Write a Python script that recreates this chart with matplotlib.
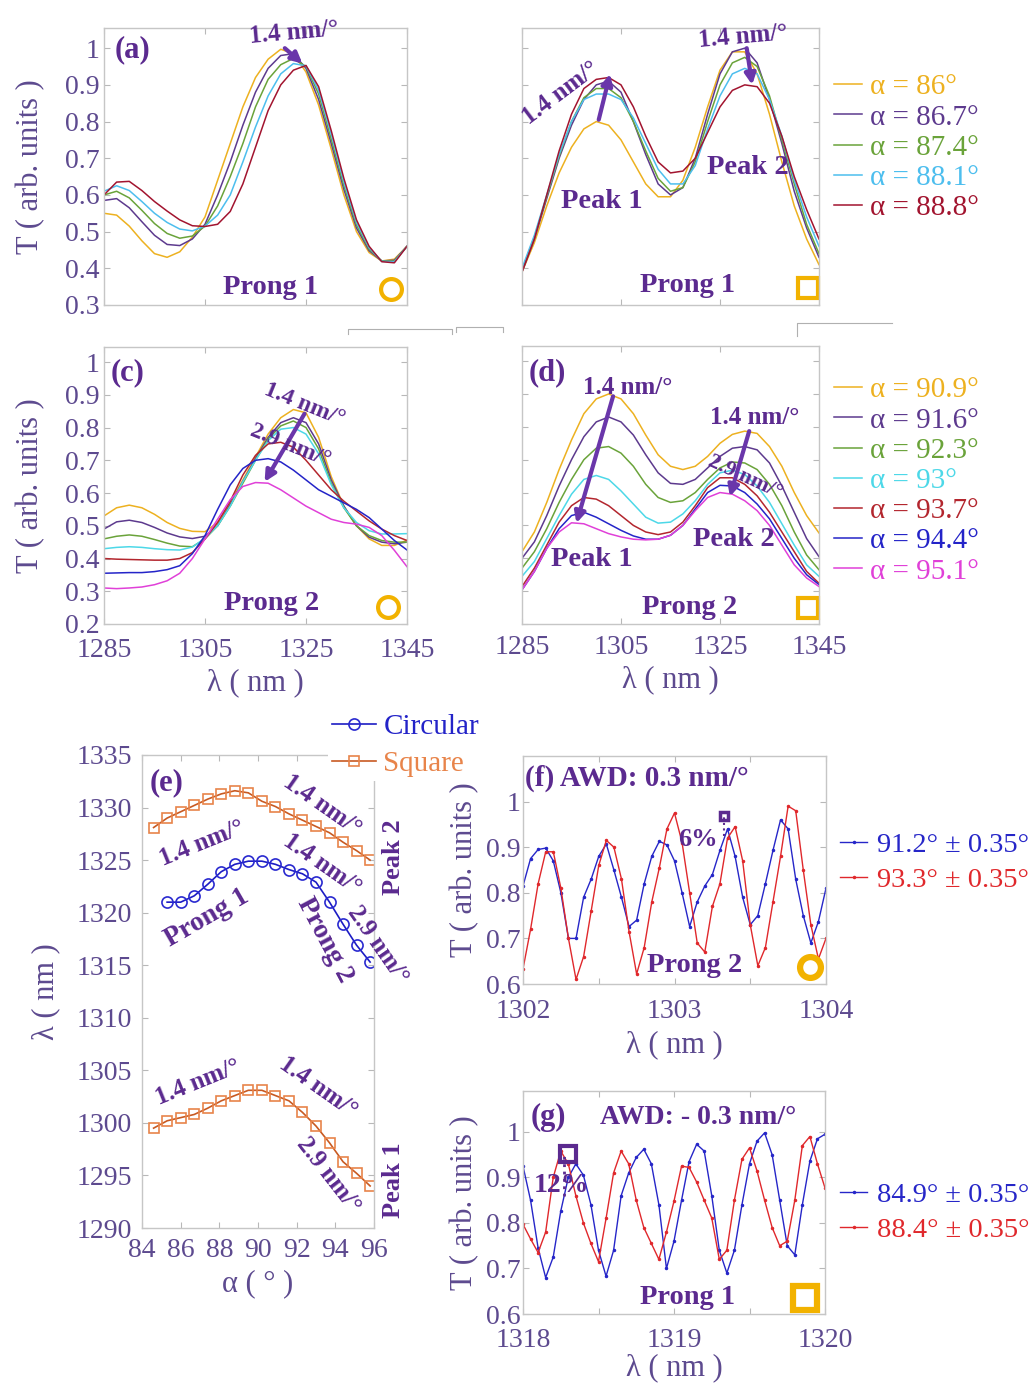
import matplotlib
matplotlib.use('Agg')
import matplotlib.pyplot as plt
from matplotlib.lines import Line2D

plt.rcParams['font.family'] = ['Liberation Serif', 'DejaVu Serif']

W, H = 1033, 1390

# ---------------- data ----------------
# wavelength samples for the broadband spectra (a)-(d)
wl = [1285, 1287.5, 1290, 1292.5, 1295, 1297.5, 1300, 1302.5, 1305, 1307.5,
      1310, 1312.5, 1315, 1317.5, 1320, 1322.5, 1325, 1327.5, 1330, 1332.5,
      1335, 1337.5, 1340, 1342.5, 1345]

alpha_ab = ['86', '86.7', '87.4', '88.1', '88.8']
alpha_cd = ['90.9', '91.6', '92.3', '93', '93.7', '94.4', '95.1']

# (a) circular taper, prong 1
T_a = [
    [0.55, 0.545, 0.515, 0.475, 0.44, 0.43, 0.445, 0.485, 0.54, 0.64, 0.74, 0.84, 0.92,
     0.97, 0.997, 0.985, 0.935, 0.845, 0.725, 0.6, 0.5, 0.443, 0.42, 0.425, 0.46],
    [0.585, 0.59, 0.565, 0.527, 0.49, 0.465, 0.462, 0.48, 0.52, 0.6, 0.69, 0.79, 0.88,
     0.945, 0.98, 0.985, 0.945, 0.86, 0.74, 0.615, 0.51, 0.448, 0.42, 0.422, 0.46],
    [0.6, 0.61, 0.592, 0.558, 0.522, 0.495, 0.482, 0.488, 0.515, 0.57, 0.65, 0.74, 0.84,
     0.915, 0.955, 0.972, 0.95, 0.875, 0.752, 0.625, 0.518, 0.452, 0.42, 0.42, 0.46],
    [0.61, 0.625, 0.612, 0.582, 0.55, 0.525, 0.507, 0.502, 0.515, 0.545, 0.6, 0.69, 0.785,
     0.87, 0.93, 0.958, 0.952, 0.885, 0.765, 0.635, 0.525, 0.456, 0.419, 0.418, 0.46],
    [0.6, 0.635, 0.637, 0.612, 0.582, 0.556, 0.532, 0.516, 0.514, 0.52, 0.555, 0.63, 0.73,
     0.83, 0.9, 0.94, 0.953, 0.895, 0.775, 0.645, 0.532, 0.46, 0.418, 0.415, 0.46],
]

# (b) square taper, prong 1
T_b = [
    [0.39, 0.47, 0.57, 0.66, 0.73, 0.78, 0.8, 0.79, 0.75, 0.69, 0.63, 0.595, 0.595,
     0.64, 0.73, 0.84, 0.94, 0.99, 0.99, 0.93, 0.82, 0.69, 0.57, 0.48, 0.41],
    [0.39, 0.48, 0.59, 0.7, 0.79, 0.86, 0.9, 0.91, 0.88, 0.8, 0.71, 0.63, 0.6,
     0.62, 0.7, 0.82, 0.93, 0.99, 1.0, 0.96, 0.86, 0.74, 0.61, 0.51, 0.43],
    [0.395, 0.485, 0.595, 0.705, 0.8, 0.865, 0.89, 0.89, 0.865, 0.8, 0.72, 0.645, 0.61,
     0.62, 0.69, 0.8, 0.9, 0.96, 0.975, 0.95, 0.87, 0.75, 0.63, 0.52, 0.44],
    [0.4, 0.49, 0.6, 0.71, 0.8, 0.86, 0.875, 0.875, 0.86, 0.81, 0.74, 0.67, 0.63,
     0.63, 0.68, 0.78, 0.87, 0.93, 0.945, 0.93, 0.86, 0.76, 0.64, 0.54, 0.46],
    [0.39, 0.48, 0.6, 0.72, 0.82, 0.89, 0.915, 0.92, 0.9, 0.84, 0.76, 0.69, 0.66,
     0.665, 0.7, 0.77, 0.84, 0.885, 0.9, 0.895, 0.85, 0.76, 0.65, 0.56, 0.48],
]

# (c) circular taper, prong 2
T_c = [
    [0.53, 0.555, 0.563, 0.555, 0.535, 0.51, 0.492, 0.483, 0.482, 0.51, 0.57, 0.64, 0.71,
     0.78, 0.83, 0.855, 0.845, 0.77, 0.65, 0.56, 0.5, 0.46, 0.44, 0.44, 0.456],
    [0.49, 0.512, 0.517, 0.51, 0.495, 0.478, 0.466, 0.461, 0.468, 0.5, 0.565, 0.635, 0.705,
     0.77, 0.815, 0.83, 0.815, 0.75, 0.64, 0.56, 0.5, 0.465, 0.45, 0.445, 0.45],
    [0.46, 0.468, 0.472, 0.468, 0.458, 0.447, 0.438, 0.436, 0.46, 0.5, 0.56, 0.63, 0.7,
     0.765, 0.805, 0.82, 0.8, 0.735, 0.63, 0.555, 0.5, 0.47, 0.455, 0.45, 0.45],
    [0.43, 0.434, 0.436, 0.434, 0.43, 0.427, 0.426, 0.435, 0.462, 0.5, 0.56, 0.635, 0.7,
     0.76, 0.795, 0.8, 0.78, 0.72, 0.625, 0.555, 0.51, 0.485, 0.475, 0.475, 0.476],
    [0.4, 0.398, 0.397, 0.396, 0.395, 0.395, 0.4, 0.418, 0.46, 0.51, 0.575, 0.655, 0.715,
     0.75, 0.755, 0.74, 0.7, 0.655, 0.61, 0.575, 0.545, 0.515, 0.49, 0.47, 0.455],
    [0.355, 0.356, 0.357, 0.357, 0.36, 0.366, 0.378, 0.415, 0.47, 0.55, 0.625, 0.675, 0.7,
     0.705, 0.695, 0.67, 0.64, 0.61, 0.59, 0.57, 0.55, 0.525, 0.49, 0.455, 0.426],
    [0.31, 0.308, 0.31, 0.313, 0.32, 0.332, 0.355, 0.4, 0.46, 0.52, 0.58, 0.62, 0.632,
     0.63, 0.61, 0.585, 0.56, 0.54, 0.52, 0.51, 0.505, 0.495, 0.47, 0.425, 0.375],
]

# (d) square taper, prong 2
T_d = [
    [0.42, 0.48, 0.57, 0.67, 0.76, 0.84, 0.885, 0.9, 0.885, 0.84, 0.775, 0.715, 0.68,
     0.67, 0.68, 0.71, 0.75, 0.777, 0.787, 0.78, 0.74, 0.68, 0.6, 0.53, 0.477],
    [0.4, 0.45, 0.53, 0.62, 0.7, 0.77, 0.815, 0.83, 0.815, 0.775, 0.715, 0.66, 0.628,
     0.625, 0.64, 0.675, 0.71, 0.735, 0.74, 0.73, 0.69, 0.62, 0.54, 0.46, 0.405],
    [0.37, 0.42, 0.49, 0.57, 0.64, 0.7, 0.735, 0.74, 0.72, 0.68, 0.625, 0.585, 0.57,
     0.575, 0.6, 0.64, 0.675, 0.693, 0.69, 0.67, 0.625, 0.56, 0.48, 0.41, 0.365],
    [0.345, 0.39, 0.46, 0.53, 0.595, 0.64, 0.652, 0.64, 0.605, 0.565, 0.525, 0.507, 0.51,
     0.535, 0.575, 0.625, 0.66, 0.668, 0.655, 0.62, 0.57, 0.505, 0.44, 0.38, 0.345],
    [0.314, 0.37, 0.44, 0.51, 0.56, 0.585, 0.58, 0.56, 0.53, 0.5, 0.48, 0.472, 0.48,
     0.51, 0.56, 0.615, 0.645, 0.645, 0.625, 0.59, 0.54, 0.48, 0.42, 0.36, 0.324],
    [0.304, 0.36, 0.43, 0.49, 0.53, 0.54, 0.525, 0.505, 0.485, 0.468, 0.458, 0.458, 0.47,
     0.5, 0.55, 0.6, 0.622, 0.62, 0.6, 0.565, 0.52, 0.46, 0.4, 0.35, 0.32],
    [0.304, 0.36, 0.43, 0.48, 0.508, 0.505, 0.49, 0.475, 0.465, 0.458, 0.456, 0.458, 0.47,
     0.5, 0.545, 0.585, 0.6, 0.595, 0.575, 0.545, 0.5, 0.44, 0.38, 0.34, 0.314],
]

# (e) resonance wavelength versus tilt angle
alpha_e = [84.6, 85.3, 86.0, 86.7, 87.4, 88.1, 88.8, 89.5, 90.2, 90.9, 91.6,
           92.3, 93.0, 93.7, 94.4, 95.1, 95.8]
sq_peak2 = [1328.1, 1329.0, 1329.6, 1330.2, 1330.8, 1331.3, 1331.6, 1331.4, 1330.6,
            1330.1, 1329.4, 1328.8, 1328.2, 1327.6, 1326.7, 1325.9, 1325.0]
circ = [None, 1321.0, 1321.0, 1321.6, 1322.7, 1323.9, 1324.6, 1324.9, 1324.9,
        1324.6, 1324.1, 1323.7, 1322.9, 1321.0, 1318.9, 1316.9, 1315.3]
sq_peak1 = [1299.5, 1300.2, 1300.5, 1300.8, 1301.4, 1302.1, 1302.6, 1303.1, 1303.1,
            1302.6, 1302.1, 1301.0, 1299.7, 1298.1, 1296.3, 1295.2, 1294.0]

# (f) fine scan, circular taper prong 2
wl_f = [1302.00, 1302.05, 1302.10, 1302.15, 1302.20, 1302.25, 1302.30, 1302.35, 1302.40,
        1302.45, 1302.50, 1302.55, 1302.60, 1302.65, 1302.70, 1302.75, 1302.80, 1302.85,
        1302.90, 1302.95, 1303.00, 1303.05, 1303.10, 1303.15, 1303.20, 1303.25, 1303.30,
        1303.35, 1303.40, 1303.45, 1303.50, 1303.55, 1303.60, 1303.65, 1303.70, 1303.75,
        1303.80, 1303.85, 1303.90, 1303.95, 1304.00]
T_f_912 = [0.815, 0.875, 0.895, 0.898, 0.87, 0.8, 0.7, 0.7, 0.79, 0.83, 0.88, 0.907, 0.85,
           0.79, 0.726, 0.74, 0.82, 0.88, 0.913, 0.905, 0.87, 0.8, 0.726, 0.78, 0.815, 0.84,
           0.893, 0.94, 0.88, 0.79, 0.73, 0.75, 0.82, 0.893, 0.96, 0.94, 0.83, 0.75, 0.69,
           0.737, 0.81]
T_f_933 = [0.633, 0.72, 0.82, 0.89, 0.89, 0.81, 0.7, 0.61, 0.66, 0.76, 0.86, 0.915, 0.9,
           0.83, 0.715, 0.622, 0.68, 0.78, 0.855, 0.94, 0.975, 0.91, 0.8, 0.69, 0.67, 0.77,
           0.82, 0.92, 0.945, 0.87, 0.73, 0.64, 0.68, 0.78, 0.88, 0.99, 0.98, 0.85, 0.73,
           0.655, 0.7]

# (g) fine scan, square taper prong 1
wl_g = [1318.00, 1318.05, 1318.10, 1318.15, 1318.20, 1318.25, 1318.30, 1318.35, 1318.40,
        1318.45, 1318.50, 1318.55, 1318.60, 1318.65, 1318.70, 1318.75, 1318.80, 1318.85,
        1318.90, 1318.95, 1319.00, 1319.05, 1319.10, 1319.15, 1319.20, 1319.25, 1319.30,
        1319.35, 1319.40, 1319.45, 1319.50, 1319.55, 1319.60, 1319.65, 1319.70, 1319.75,
        1319.80, 1319.85, 1319.90, 1319.95, 1320.00]
T_g_849 = [0.925, 0.85, 0.745, 0.68, 0.725, 0.826, 0.9, 0.93, 0.905, 0.84, 0.74, 0.683,
           0.74, 0.86, 0.91, 0.944, 0.962, 0.93, 0.84, 0.7, 0.76, 0.85, 0.935, 0.973, 0.958,
           0.86, 0.74, 0.69, 0.74, 0.84, 0.93, 0.98, 0.998, 0.95, 0.85, 0.75, 0.73, 0.84,
           0.936, 0.985, 0.995]
T_g_884 = [0.797, 0.765, 0.735, 0.78, 0.9, 0.958, 0.93, 0.86, 0.8, 0.755, 0.715, 0.81,
           0.91, 0.958, 0.93, 0.85, 0.79, 0.755, 0.72, 0.78, 0.848, 0.925, 0.922, 0.89,
           0.85, 0.811, 0.72, 0.74, 0.85, 0.94, 0.965, 0.914, 0.85, 0.79, 0.75, 0.76, 0.85,
           0.97, 0.99, 0.93, 0.877]

# slope arrows (start, end) in data units
arrows_a = [((1320.8, 1.0), (1324.3, 0.958))]
arrows_b = [((1300.5, 0.805), (1302.8, 0.93)), ((1330.4, 1.0), (1331.5, 0.9))]
arrows_c = [((1324.7, 0.842), (1316.8, 0.634))]
arrows_d = [((1303.4, 0.893), (1296.0, 0.507)), ((1330.9, 0.787), (1327.0, 0.588))]

# ---------------- style ----------------
TICK = '#5d4a8f'
ANN = '#5b2a8f'
ARROW = '#6a36aa'
GOLD = '#f2b200'
cols_ab = ['#EDB120', '#5d3a8e', '#6aa33a', '#4DBEEE', '#A2142F']
cols_cd = ['#EDB120', '#5d3a8e', '#6aa33a', '#4DD8E8', '#b3262e', '#2424c8', '#e040d8']
LAB = 22

fig = plt.figure(figsize=(W / 100, H / 100), dpi=100)


def add_ax(l, t, r, b):
    return fig.add_axes([l / W, 1 - b / H, (r - l) / W, (b - t) / H])


def ftext(x, y, s, size=20.5, color=ANN, weight='bold', rot=0, ha='center', va='center'):
    fig.text(x / W, 1 - y / H, s, fontsize=size, color=color, fontweight=weight,
             rotation=rot, ha=ha, va=va, rotation_mode='anchor')


def style(ax, xpad=10, ypad=3):
    for sp in ax.spines.values():
        sp.set_color('#c6c6c6')
        sp.set_linewidth(1.0)
    ax.tick_params(direction='in', length=4, width=0.8, color='#b8b8b8', top=True,
                   right=True, labelsize=20, labelcolor=TICK)
    ax.tick_params(axis='x', pad=xpad)
    ax.tick_params(axis='y', pad=ypad)


def arrows(ax, lst):
    for (x0, y0), (x1, y1) in lst:
        ax.annotate('', xy=(x1, y1), xytext=(x0, y0),
                    arrowprops=dict(arrowstyle='-|>', lw=3, color=ARROW,
                                    mutation_scale=16, shrinkA=0, shrinkB=0))


def corner_mark(ax, xf, yf, marker, ms, mew):
    ax.plot([xf], [yf], marker=marker, ms=ms, mfc='none', mec=GOLD, mew=mew,
            transform=ax.transAxes, clip_on=False)


def legend_at(ax, handles, x, y, spacing, size=21, hl=0.95, tp=0.3):
    return ax.legend(handles=handles, loc='upper left', bbox_to_anchor=(x / W, 1 - y / H),
                     bbox_transform=fig.transFigure, frameon=False, fontsize=size,
                     handlelength=hl, handletextpad=tp, labelspacing=spacing,
                     borderpad=0, borderaxespad=0, labelcolor='linecolor')


ylab = 'T ( arb. units )'
xlab = 'λ ( nm )'
yt_ab = [0.3, 0.4, 0.5, 0.6, 0.7, 0.8, 0.9, 1]
yt_cd = [0.2, 0.3, 0.4, 0.5, 0.6, 0.7, 0.8, 0.9, 1]

# ---------------- (a) ----------------
ax_a = add_ax(104, 28, 407, 305)
for ys, c in zip(T_a, cols_ab):
    ax_a.plot(wl, ys, color=c, lw=1.1)
ax_a.set_xlim(1285, 1345)
ax_a.set_ylim(0.3, 1.055)
ax_a.set_xticks([1285, 1305, 1325, 1345])
ax_a.set_xticklabels([])
ax_a.set_yticks(yt_ab)
ax_a.set_yticklabels(['0.3', '0.4', '0.5', '0.6', '0.7', '0.8', '0.9', '1'])
style(ax_a)
ax_a.set_ylabel(ylab, fontsize=LAB, color=TICK)
ax_a.yaxis.set_label_coords((45 - 104) / 303, 0.5)
arrows(ax_a, arrows_a)
corner_mark(ax_a, (391 - 104) / 303, (305 - 289) / 277, 'o', 15, 3)
ftext(132, 50, '(a)', size=22)
ftext(294, 33, '1.4 nm/°', size=18, rot=5)
ftext(271, 287, 'Prong 1')

# ---------------- (b) ----------------
ax_b = add_ax(522, 28, 819, 305)
lines_b = []
for ys, c, a in zip(T_b, cols_ab, alpha_ab):
    ln, = ax_b.plot(wl, ys, color=c, lw=1.1, label=f'α = {a}°')
    lines_b.append(ln)
ax_b.set_xlim(1285, 1345)
ax_b.set_ylim(0.3, 1.055)
ax_b.set_xticks([1285, 1305, 1325, 1345])
ax_b.set_xticklabels([])
ax_b.set_yticks(yt_ab)
ax_b.set_yticklabels([])
style(ax_b)
arrows(ax_b, arrows_b)
corner_mark(ax_b, (808 - 522) / 297, (305 - 288) / 277, 's', 15, 3)
ftext(561, 93, '1.4 nm/°', size=18, rot=37)
ftext(743, 37, '1.4 nm/°', size=18, rot=5)
ftext(602, 202, 'Peak 1')
ftext(748, 168, 'Peak 2')
ftext(688, 285, 'Prong 1')
legend_at(ax_b, lines_b, 834, 74, 0.13)

# ---------------- (c) ----------------
ax_c = add_ax(104, 347, 407, 624)
for ys, c in zip(T_c, cols_cd):
    ax_c.plot(wl, ys, color=c, lw=1.1)
ax_c.set_xlim(1285, 1345)
ax_c.set_ylim(0.2, 1.046)
ax_c.set_xticks([1285, 1305, 1325, 1345])
ax_c.set_yticks(yt_cd)
ax_c.set_yticklabels(['0.2', '0.3', '0.4', '0.5', '0.6', '0.7', '0.8', '0.9', '1'])
style(ax_c)
ax_c.set_ylabel(ylab, fontsize=LAB, color=TICK)
ax_c.yaxis.set_label_coords((45 - 104) / 303, 0.5)
ax_c.set_xlabel(xlab, fontsize=LAB, color=TICK, labelpad=4)
arrows(ax_c, arrows_c)
corner_mark(ax_c, (388 - 104) / 303, (624 - 607) / 277, 'o', 15, 3)
ftext(128, 373, '(c)', size=22)
ftext(304, 405, '1.4 nm/°', size=17, rot=-22)
ftext(290, 446, '2.9 nm/°', size=17, rot=-22)
ftext(272, 604, 'Prong 2')

# ---------------- (d) ----------------
ax_d = add_ax(522, 346, 819, 624)
lines_d = []
for ys, c, a in zip(T_d, cols_cd, alpha_cd):
    ln, = ax_d.plot(wl, ys, color=c, lw=1.1, label=f'α = {a}°')
    lines_d.append(ln)
ax_d.set_xlim(1285, 1345)
ax_d.set_ylim(0.2, 1.046)
ax_d.set_xticks([1285, 1305, 1325, 1345])
ax_d.set_yticks(yt_cd)
ax_d.set_yticklabels([])
style(ax_d, xpad=8)
ax_d.set_xlabel(xlab, fontsize=LAB, color=TICK, labelpad=4)
arrows(ax_d, arrows_d)
corner_mark(ax_d, (808 - 522) / 297, (624 - 608) / 278, 's', 15, 3)
ftext(547, 373, '(d)', size=22)
ftext(628, 388, '1.4 nm/°', size=18)
ftext(755, 418, '1.4 nm/°', size=18)
ftext(745, 477, '2.9 nm/°', size=16, rot=-25)
ftext(592, 560, 'Peak 1')
ftext(734, 540, 'Peak 2')
ftext(690, 607, 'Prong 2')
legend_at(ax_d, lines_d, 834, 377, 0.13)

# ---------------- (e) ----------------
ax_e = add_ax(142, 755, 374, 1228)
ln_c, = ax_e.plot(alpha_e[1:], circ[1:], color='#1c1cc4', lw=1.2, marker='o', ms=8,
                  mfc='none', mec='#2a2ad0', mew=1.2, label='Circular')
ln_s, = ax_e.plot(alpha_e, sq_peak2, color='#c85a22', lw=1.2, marker='s', ms=7,
                  mfc='none', mec='#e8844a', mew=1.2, label='Square')
ax_e.plot(alpha_e, sq_peak1, color='#c85a22', lw=1.2, marker='s', ms=7,
          mfc='none', mec='#e8844a', mew=1.2)
ax_e.set_xlim(84, 96)
ax_e.set_ylim(1290, 1335)
ax_e.set_xticks([84, 86, 88, 90, 92, 94, 96])
ax_e.set_yticks([1290, 1295, 1300, 1305, 1310, 1315, 1320, 1325, 1330, 1335])
style(ax_e, xpad=7, ypad=7)
ax_e.set_ylabel(xlab, fontsize=LAB, color=TICK)
ax_e.yaxis.set_label_coords((60 - 142) / 232, 0.5)
ax_e.set_xlabel('α ( ° )', fontsize=LAB, color=TICK, labelpad=5)
ax_e.legend(handles=[ln_c, ln_s], loc='upper left',
            bbox_to_anchor=(328 / W, 1 - 709 / H), bbox_transform=fig.transFigure,
            frameon=True, facecolor='white', edgecolor='none', framealpha=1,
            fontsize=21, handlelength=1.5, handletextpad=0.25, labelspacing=0.37,
            borderpad=0.15, borderaxespad=0, labelcolor=['#2323c8', '#e8844a'],
            fancybox=False)
ftext(167, 783, '(e)', size=22)
ftext(322, 805, '1.4 nm/°', size=18, rot=-35)
ftext(202, 843, '1.4 nm/°', size=18, rot=22)
ftext(322, 864, '1.4 nm/°', size=18, rot=-35)
ftext(207, 918, 'Prong 1', size=20, rot=30)
ftext(325, 940, 'Prong 2', size=20, rot=-62)
ftext(378, 945, '2.9 nm/°', size=18, rot=-55)
ftext(394, 857, 'Peak 2', size=19, rot=90)
ftext(198, 1082, '1.4 nm/°', size=18, rot=22)
ftext(318, 1087, '1.4 nm/°', size=18, rot=-35)
ftext(329, 1175, '2.9 nm/°', size=18, rot=-52)
ftext(394, 1180, 'Peak 1', size=19, rot=90)

# ---------------- (f) ----------------
ax_f = add_ax(523, 756, 826, 984)
ln_f1, = ax_f.plot(wl_f, T_f_912, color='#2626c8', lw=1.0, marker='.', ms=3,
                   label='91.2° ± 0.35°')
ln_f2, = ax_f.plot(wl_f, T_f_933, color='#e0282c', lw=1.0, marker='.', ms=3,
                   label='93.3° ± 0.35°')
ax_f.set_xlim(1302, 1304)
ax_f.set_ylim(0.6, 1.1)
ax_f.set_xticks([1302, 1302.5, 1303, 1303.5, 1304])
ax_f.set_xticklabels(['1302', '', '1303', '', '1304'])
ax_f.set_yticks([0.6, 0.7, 0.8, 0.9, 1])
ax_f.set_yticklabels(['0.6', '0.7', '0.8', '0.9', '1'])
style(ax_f, xpad=11, ypad=2)
ax_f.set_ylabel(ylab, fontsize=LAB, color=TICK)
ax_f.yaxis.set_label_coords((479 - 523) / 303, 0.5)
ax_f.set_xlabel(xlab, fontsize=LAB, color=TICK, labelpad=4)
ax_f.plot([1303.33, 1303.33], [0.925, 0.97], color=ANN, lw=1.5, ls=':')
ax_f.plot([1303.33], [0.968], marker='s', ms=6, mfc='none', mec=ANN, mew=2.5)
corner_mark(ax_f, (810 - 523) / 303, (984 - 967) / 228, 'o', 15, 4.5)
ftext(525, 778, '(f) AWD: 0.3 nm/°', size=21, ha='left')
ftext(698, 840, '6%', size=19)
ftext(695, 965, 'Prong 2')
legend_at(ax_f, [ln_f1, ln_f2], 840, 832, 0.33, size=20.5, hl=0.95, tp=0.35)

# ---------------- (g) ----------------
ax_g = add_ax(523, 1091, 825, 1314)
ln_g1, = ax_g.plot(wl_g, T_g_849, color='#2626c8', lw=1.0, marker='.', ms=3,
                   label='84.9° ± 0.35°')
ln_g2, = ax_g.plot(wl_g, T_g_884, color='#e0282c', lw=1.0, marker='.', ms=3,
                   label='88.4° ± 0.35°')
ax_g.set_xlim(1318, 1320)
ax_g.set_ylim(0.6, 1.09)
ax_g.set_xticks([1318, 1318.5, 1319, 1319.5, 1320])
ax_g.set_xticklabels(['1318', '', '1319', '', '1320'])
ax_g.set_yticks([0.6, 0.7, 0.8, 0.9, 1])
ax_g.set_yticklabels(['0.6', '0.7', '0.8', '0.9', '1'])
style(ax_g, xpad=10, ypad=2)
ax_g.set_ylabel(ylab, fontsize=LAB, color=TICK)
ax_g.yaxis.set_label_coords((479 - 523) / 302, 0.5)
ax_g.set_xlabel(xlab, fontsize=LAB, color=TICK, labelpad=0)
ax_g.plot([1318.27, 1318.27], [0.86, 0.955], color=ANN, lw=2, ls=':')
ax_g.plot([1318.3], [0.952], marker='s', ms=11, mfc='none', mec=ANN, mew=3)
corner_mark(ax_g, (805 - 523) / 302, (1314 - 1298) / 223, 's', 17, 4.5)
ftext(548, 1117, '(g)', size=22)
ftext(600, 1117, 'AWD: - 0.3 nm/°', size=20, ha='left')
ftext(562, 1185, '12%', size=20)
ftext(688, 1298, 'Prong 1')
legend_at(ax_g, [ln_g1, ln_g2], 840, 1182, 0.33, size=20.5, hl=0.95, tp=0.35)

# leftover box edges between the two spectra rows
for xs, ys in [([348, 348, 452, 452], [334, 329, 329, 334]),
               ([456, 456, 503, 503], [332, 327, 327, 332]),
               ([797, 797, 892], [336, 323, 323])]:
    fig.add_artist(Line2D([x / W for x in xs], [1 - y / H for y in ys],
                          color='#b0b0b0', lw=0.8))

fig.savefig('out.png', dpi=100, facecolor='white')
